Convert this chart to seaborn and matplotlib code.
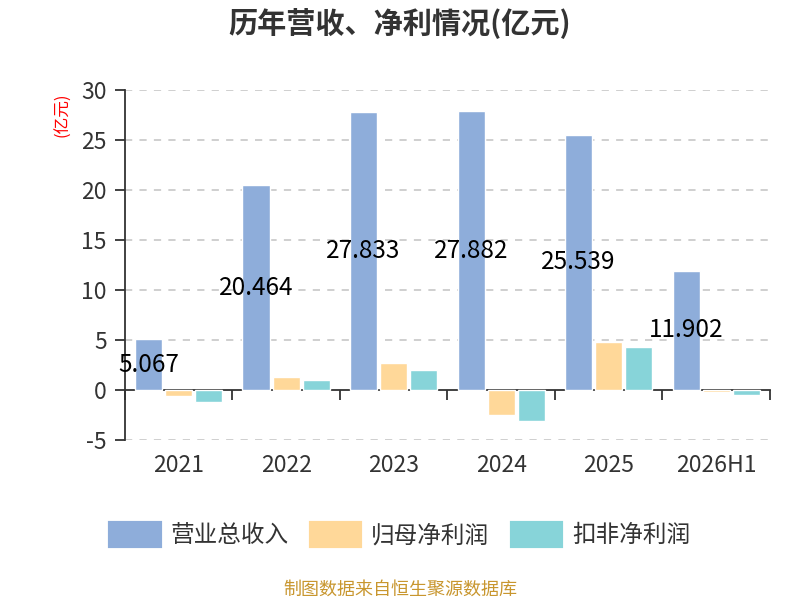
import matplotlib
matplotlib.use("Agg")
import matplotlib.pyplot as plt
import seaborn as sns
import pandas as pd
import numpy as np
from matplotlib.patches import Patch

years = ["2021", "2022", "2023", "2024", "2025", "2026H1"]
series_names = ["营业总收入", "归母净利润", "扣非净利润"]
revenue = [5.067, 20.464, 27.833, 27.882, 25.539, 11.902]
net_profit = [-0.6, 1.3, 2.7, -2.5, 4.8, -0.2]
deducted_profit = [-1.2, 1.0, 2.0, -3.1, 4.3, -0.5]
colors = ["#8EADDA", "#FFD899", "#87D4D9"]

rows = []
for name, vals in zip(series_names, [revenue, net_profit, deducted_profit]):
    for y, v in zip(years, vals):
        rows.append({"year": y, "series": name, "value": v})
df = pd.DataFrame(rows)

sns.set_theme(style="white")
plt.rcParams['font.family'] = ['Noto Sans CJK SC', 'DejaVu Sans']
plt.rcParams['axes.unicode_minus'] = False

fig = plt.figure(figsize=(8, 6), dpi=100)
ax = fig.add_axes([0.156, 0.2667, 0.8065, 0.5833])

group_w = 0.84
sns.barplot(data=df, x="year", y="value", hue="series", order=years,
            hue_order=series_names, palette=colors, width=group_w, gap=0.1,
            legend=False, ax=ax, saturation=1, errorbar=None)

ax.set_xlim(-0.5, len(years) - 0.5)
ax.set_ylim(-5, 30)
ax.set_yticks(np.arange(-5, 31, 5))
ax.set_yticklabels([str(v) for v in range(-5, 31, 5)], fontsize=16.5, color="#333333")
ax.set_xticks(np.arange(len(years)))
ax.set_xticklabels(years, fontsize=16.5, color="#333333")
ax.tick_params(axis="x", length=0, pad=10)
ax.tick_params(axis="y", length=7, width=1.3, color="#333333", left=True, pad=6)
for yv in range(-5, 31, 5):
    if yv != 0:
        ax.axhline(yv, color="#cccccc", linestyle=(0, (4, 4)), linewidth=1.3, zorder=0)
ax.set_xlabel("")
ax.set_ylabel("")
for s in ["top", "right", "bottom"]:
    ax.spines[s].set_visible(False)
ax.spines["left"].set_color("#333333")
ax.spines["left"].set_linewidth(1.3)

sec = ax.secondary_xaxis(5 / 35)
sec.set_xticks(np.arange(len(years) + 1) - 0.5)
sec.set_xticklabels([])
sec.tick_params(axis="x", direction="out", length=7, width=1.3, color="#333333")
sec.spines["bottom"].set_color("#333333")
sec.spines["bottom"].set_linewidth(1.3)

# value labels for revenue
for i, v in enumerate(revenue):
    xc = i - group_w / 3
    ax.text(xc, v / 2, f"{v:.3f}", ha="center", va="center", fontsize=17.5, color="black", zorder=5)

fig.text(0.5, 0.962, "历年营收、净利情况(亿元)", ha="center", va="center",
         fontsize=21, fontweight="bold", color="#333333")
fig.text(0.079, 0.808, "(亿元)", rotation=90, ha="center", va="center", fontsize=12, color="red")

handles = [Patch(facecolor=c, edgecolor=c, linewidth=3, joinstyle="round", label=n)
           for c, n in zip(colors, series_names)]
fig.legend(handles=handles, loc="center", bbox_to_anchor=(0.5, 0.108), ncol=3, frameon=False,
           fontsize=17, handlelength=2.1, handleheight=1.1, columnspacing=0.95, handletextpad=0.45,
           labelcolor="#333333")
fig.text(0.5, 0.018, "制图数据来自恒生聚源数据库", ha="center", va="center", fontsize=13, color="#C8962E")

fig.savefig("out.png", dpi=100)
